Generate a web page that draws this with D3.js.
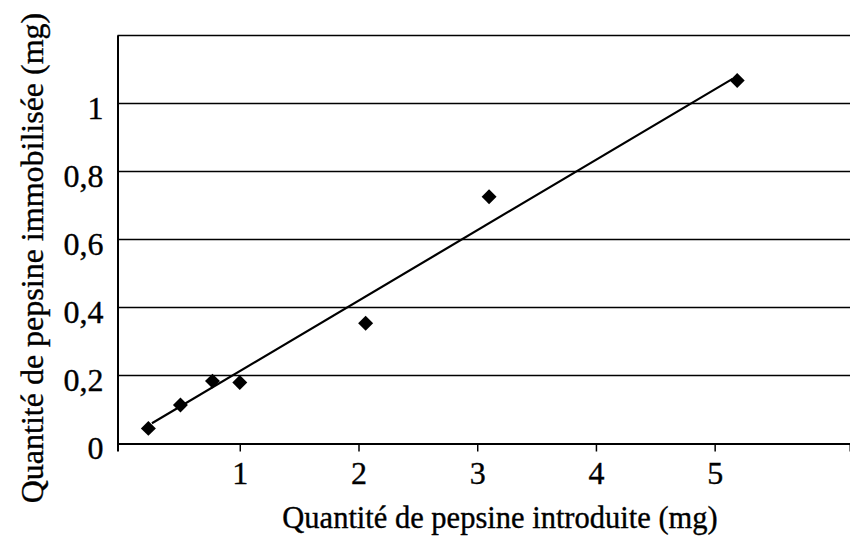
<!DOCTYPE html>
<html lang="fr">
<head>
    <meta charset="UTF-8">
    <title>Pepsine</title>
    <script src="https://d3js.org/d3.v7.min.js"></script>
    <style>
        body { margin: 0; background: #fff; }
        text { font-family: "Liberation Serif", "Times New Roman", serif; fill: #000; stroke: #000; stroke-width: 0.35px; }
    </style>
</head>
<body>
<script>
    const width  = 850;
    const height = 540;

    // pepsine introduite (mg) / pepsine immobilisee (mg)
    const introduite  = [0.23, 0.5, 0.77, 1.0, 2.06, 3.1, 5.19];
    const immobilisee = [0.043, 0.112, 0.182, 0.178, 0.352, 0.724, 1.066];
    // droite de tendance (deux extremites)
    const tendance = [[0.26, 0.058], [5.15, 1.071]];

    const xTicks = [1, 2, 3, 4, 5];
    const yTicks = [0, 0.2, 0.4, 0.6, 0.8, 1];
    const yGrid  = [0.2, 0.4, 0.6, 0.8, 1, 1.2];

    const xTitle = "Quantité de pepsine introduite (mg)";
    const yTitle = "Quantité de pepsine immobilisée (mg)";

    const scaleX = d3.scaleLinear()
            .domain([-0.03, 6.14])
            .range([117.5, 850]);

    const scaleY = d3.scaleLinear()
            .domain([0, 1.2])
            .range([443, 35]);

    const fmt = d => String(d).replace(".", ",");

    const svg = d3.select("body").append("svg").attr("height", height).attr("width", width);

    // grille horizontale
    svg.append("g").selectAll("line")
        .data(yGrid).enter()
        .append("line")
        .attr("x1", scaleX.range()[0]).attr("x2", scaleX.range()[1])
        .attr("y1", d => Math.round(scaleY(d)) + 0.5)
        .attr("y2", d => Math.round(scaleY(d)) + 0.5)
        .attr("stroke", "#000")
        .attr("stroke-width", 1.5);

    // axe x
    const xAxis = d3.axisBottom(scaleX)
            .tickValues(xTicks)
            .tickSize(8)
            .tickFormat(fmt);
    const gx = svg.append("g")
            .attr("transform", "translate(0," + 443.5 + ")")
            .call(xAxis);
    gx.select(".domain").attr("stroke", "#000").attr("stroke-width", 2);
    gx.selectAll(".tick line").attr("stroke", "#000").attr("stroke-width", 1.5);
    gx.selectAll(".tick text")
        .attr("y", 40)
        .attr("dy", 0)
        .attr("font-size", 32);

    // axe y
    const yAxis = d3.axisLeft(scaleY)
            .tickValues(yTicks)
            .tickSize(0)
            .tickPadding(14)
            .tickFormat(fmt);
    const gy = svg.append("g")
            .attr("transform", "translate(" + 117.5 + ",0)")
            .call(yAxis);
    gy.select(".domain").attr("stroke", "#000").attr("stroke-width", 2);
    gy.selectAll(".tick text")
        .attr("dy", 15)
        .attr("font-size", 32);

    // droite de tendance
    const line = d3.line()
            .x(d => scaleX(d[0]))
            .y(d => scaleY(d[1]));
    svg.append("path")
        .datum(tendance)
        .attr("d", line)
        .attr("fill", "none")
        .attr("stroke", "#000")
        .attr("stroke-width", 2.2);

    // points
    const diamond = d3.symbol().type(d3.symbolSquare).size(112);
    svg.append("g").selectAll("path")
        .data(d3.zip(introduite, immobilisee)).enter()
        .append("path")
        .attr("d", diamond)
        .attr("fill", "#000")
        .attr("transform", d => "translate(" + [scaleX(d[0]), scaleY(d[1])] + ") rotate(45)");

    // titres
    svg.append("text")
        .attr("x", 500)
        .attr("y", 528)
        .attr("text-anchor", "middle")
        .attr("font-size", 30.5)
        .text(xTitle);

    svg.append("text")
        .attr("transform", "translate(43,258) rotate(-90)")
        .attr("text-anchor", "middle")
        .attr("font-size", 32)
        .text(yTitle);
</script>
</body>
</html>
